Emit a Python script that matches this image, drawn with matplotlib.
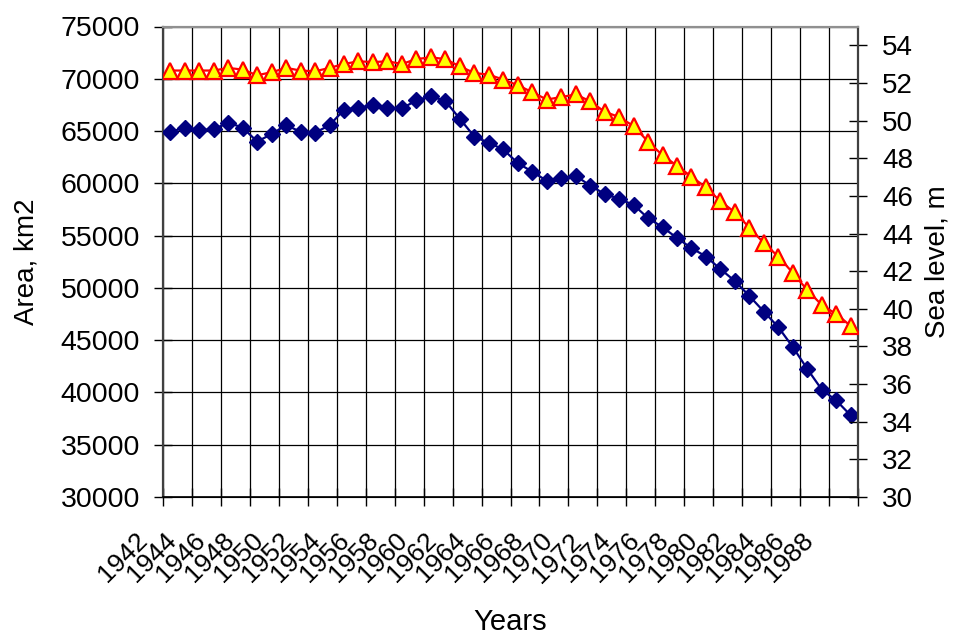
import matplotlib
matplotlib.use("Agg")
import matplotlib.pyplot as plt
from matplotlib.transforms import ScaledTranslation
import numpy as np

years = list(range(1942, 1990))
area_km2 = [64920, 65330, 65080, 65170, 65800, 65330, 64000, 64700, 65580, 64920,
            64850, 65550, 67040, 67230, 67490, 67230, 67170, 67930, 68340, 67870,
            66180, 64470, 63880, 63240, 61940, 61110, 60250, 60480, 60730, 59780,
            58990, 58510, 57940, 56670, 55810, 54770, 53810, 53000, 51800, 50650,
            49220, 47730, 46240, 44340, 42240, 40270, 39230, 37800]
sea_level_m = [52.66, 52.66, 52.66, 52.66, 52.80, 52.71, 52.41, 52.57, 52.80, 52.66,
               52.62, 52.80, 53.01, 53.15, 53.11, 53.15, 53.01, 53.27, 53.36, 53.27,
               52.88, 52.53, 52.44, 52.18, 51.88, 51.51, 51.12, 51.25, 51.39, 51.03,
               50.47, 50.19, 49.71, 48.88, 48.16, 47.60, 47.02, 46.45, 45.71, 45.13,
               44.31, 43.49, 42.77, 41.91, 40.99, 40.20, 39.72, 39.09]
left_ticks = list(range(30000, 75001, 5000))
right_ticks = list(range(30, 55, 2))
label_years = years[::2]

plt.rcParams['font.family'] = ['Liberation Sans', 'DejaVu Sans']

fig = plt.figure(figsize=(9.57, 6.35), dpi=100)
ax = fig.add_axes([163/957, 1-497/635, 695/957, 470.5/635])
ax2 = ax.twinx()

x = np.arange(len(years))
ax.set_xlim(-0.5, len(years) - 0.5)
ax.set_ylim(30000, 75000)
ax2.set_ylim(30, 55)

# grid
ax.set_xticks(np.arange(-0.5, len(years), 2))
ax.set_xticklabels([])
ax.set_yticks(left_ticks)
ax.set_yticklabels([str(t) for t in left_ticks])
ax.grid(True, color='black', linewidth=0.9)
ax.set_axisbelow(True)

ax.plot(x, area_km2, color='#000080', lw=1.6, marker='D', ms=8,
        markerfacecolor='#000080', markeredgecolor='#000080', zorder=3)
ax2.plot(x, sea_level_m, color='#FF0000', lw=1.6, marker='^', ms=11,
         markerfacecolor='#FFFF00', markeredgecolor='#FF0000', mew=1.6, zorder=3)

ax2.set_yticks(right_ticks)
ax2.set_yticklabels([str(t) for t in right_ticks])

ax.tick_params(axis='y', direction='inout', length=13, width=1, pad=10, labelsize=20.5)
ax.tick_params(axis='x', direction='inout', length=13, width=1, colors='black')
ax2.tick_params(axis='y', direction='inout', length=13, width=1, pad=11, labelsize=20)

ax.spines['top'].set_color('#909090'); ax.spines['top'].set_linewidth(1.5)
ax.spines['left'].set_color('#404040'); ax.spines['left'].set_linewidth(1.6)
ax.spines['bottom'].set_color('black'); ax.spines['bottom'].set_linewidth(1.2)
ax2.spines['right'].set_color('#404040'); ax2.spines['right'].set_linewidth(1.6)
ax2.spines['top'].set_color('#909090'); ax2.spines['top'].set_linewidth(1.5)
ax2.spines['left'].set_visible(False)
ax.spines['right'].set_visible(False)

# rotated year labels
off = ScaledTranslation(-27/100, -40/100, fig.dpi_scale_trans)
for yr in label_years:
    i = years.index(yr)
    ax.text(i, 0, str(yr), transform=ax.get_xaxis_transform() + off,
            rotation=45, rotation_mode='anchor', ha='right', va='center',
            fontsize=19, clip_on=False)

ax.set_ylabel('Area, km2', fontsize=20)
ax.yaxis.set_label_coords(-0.177, 0.5)
ax2.set_ylabel('Sea level, m', fontsize=20, rotation=90)
ax2.yaxis.set_label_coords(1.096, 0.5)
ax.set_xlabel('Years', fontsize=21)
ax.xaxis.set_label_coords(0.5, -0.236)

fig.savefig('out.png', dpi=100)
